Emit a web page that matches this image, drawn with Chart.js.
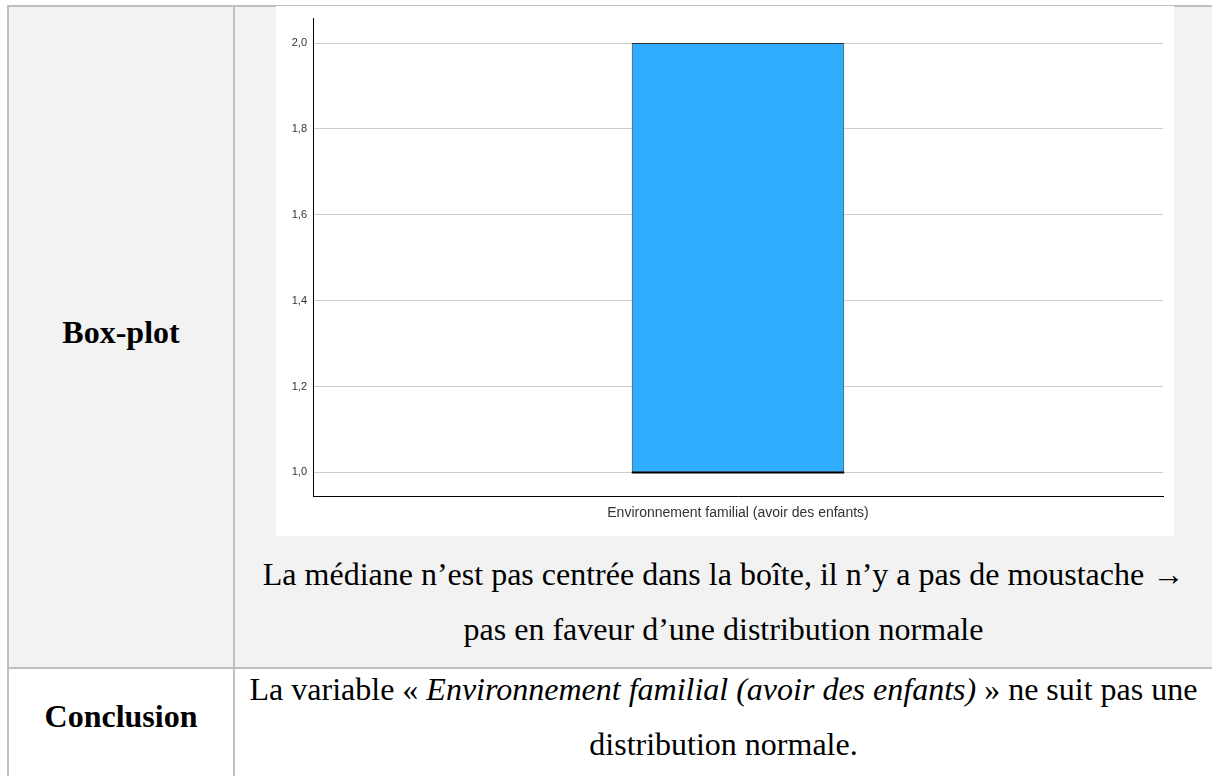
<!DOCTYPE html>
<html lang="fr">
<head>
<meta charset="utf-8">
<script src="https://cdn.jsdelivr.net/npm/chart.js@4/dist/chart.umd.min.js"></script>
<style>
html,body{margin:0;padding:0;background:#fff;width:1212px;height:776px;overflow:hidden;position:relative;font-family:"Liberation Serif","Times New Roman",serif;color:#000;}
.row1bg{position:absolute;left:9px;top:7px;width:1203px;height:660px;background:#f2f2f2;}
.line{position:absolute;background:#bfbfbf;}
.txt{position:absolute;font-size:32px;line-height:32px;white-space:nowrap;text-align:center;}
.b{font-weight:bold;}
#chartBox{position:absolute;left:276px;top:6px;width:898px;height:530px;background:#fff;}
</style>
</head>
<body>
<div class="row1bg"></div>
<div class="line" style="left:7px;top:5px;width:1205px;height:2px;"></div>
<div class="line" style="left:7px;top:5px;width:2px;height:771px;"></div>
<div class="line" style="left:233px;top:5px;width:2px;height:771px;"></div>
<div class="line" style="left:7px;top:667px;width:1205px;height:2px;"></div>

<div id="chartBox"><canvas id="c"></canvas></div>

<div class="txt b" style="left:9px;width:224px;top:316px;">Box-plot</div>
<div class="txt" style="left:235px;width:977px;top:558px;">La médiane n’est pas centrée dans la boîte, il n’y a pas de moustache →</div>
<div class="txt" style="left:235px;width:977px;top:613px;">pas en faveur d’une distribution normale</div>

<div class="txt b" style="left:9px;width:224px;top:700px;">Conclusion</div>
<div class="txt" style="left:235px;width:977px;top:673px;">La variable « <i>Environnement familial (avoir des enfants)</i> » ne suit pas une</div>
<div class="txt" style="left:235px;width:977px;top:728px;">distribution normale.</div>

<script>
// ---- data ----
const categories = ['Environnement familial (avoir des enfants)'];
const boxMin = [1.0];
const boxQ1 = [1.0];
const boxMedian = [1.0];
const boxQ3 = [2.0];
const boxMax = [2.0];
const yTickValues = [1.0, 1.2, 1.4, 1.6, 1.8, 2.0];
const yAxisMin = 0.945;
const yAxisMax = 2.057;

const boxExtras = {
  id: 'boxExtras',
  afterDatasetsDraw(chart) {
    const meta = chart.getDatasetMeta(0);
    const ys = chart.scales.y;
    const ctx = chart.ctx;
    meta.data.forEach((bar, i) => {
      const half = bar.width / 2;
      ctx.save();
      ctx.strokeStyle = '#000';
      ctx.lineWidth = 1;
      // whiskers (only if they exist)
      if (boxMax[i] > boxQ3[i]) {
        const a = ys.getPixelForValue(boxQ3[i]), b = ys.getPixelForValue(boxMax[i]);
        ctx.beginPath(); ctx.moveTo(bar.x, a); ctx.lineTo(bar.x, b);
        ctx.moveTo(bar.x - half / 2, b); ctx.lineTo(bar.x + half / 2, b); ctx.stroke();
      }
      if (boxMin[i] < boxQ1[i]) {
        const a = ys.getPixelForValue(boxQ1[i]), b = ys.getPixelForValue(boxMin[i]);
        ctx.beginPath(); ctx.moveTo(bar.x, a); ctx.lineTo(bar.x, b);
        ctx.moveTo(bar.x - half / 2, b); ctx.lineTo(bar.x + half / 2, b); ctx.stroke();
      }
      // median
      const ym = ys.getPixelForValue(boxMedian[i]);
      ctx.lineWidth = 2;
      ctx.beginPath(); ctx.moveTo(bar.x - half, ym); ctx.lineTo(bar.x + half, ym); ctx.stroke();
      ctx.restore();
    });
  }
};

new Chart(document.getElementById('c'), {
  type: 'bar',
  data: {
    labels: categories,
    datasets: [{
      data: categories.map((c, i) => [boxQ1[i], boxQ3[i]]),
      backgroundColor: '#31adff',
      borderColor: '#333333',
      borderWidth: 1,
      borderSkipped: false,
      barPercentage: 0.25,
      categoryPercentage: 1
    }]
  },
  options: {
    responsive: true,
    maintainAspectRatio: false,
    animation: false,
    layout: { padding: { left: 0, top: 6, right: 11, bottom: 0 } },
    plugins: { legend: { display: false }, tooltip: { enabled: false } },
    scales: {
      x: {
        grid: { display: false, drawTicks: false },
        border: { display: true, color: '#000', width: 1 },
        ticks: { display: false },
        title: {
          display: true,
          text: categories[0],
          color: '#333',
          font: { family: 'Liberation Sans', size: 14 },
          padding: { top: 0, bottom: 14 }
        },
        afterFit(s) { s.height = 40; }
      },
      y: {
        min: yAxisMin,
        max: yAxisMax,
        afterBuildTicks(s) { s.ticks = yTickValues.map(v => ({ value: v })); },
        grid: { color: '#cccccc', lineWidth: 1, drawTicks: false },
        border: { display: true, color: '#000', width: 1 },
        ticks: {
          padding: 6,
          color: '#333',
          font: { family: 'Liberation Sans', size: 11 },
          callback: (v) => Number(v).toFixed(1).replace('.', ',')
        },
        afterFit(s) { s.width = 37; }
      }
    }
  },
  plugins: [boxExtras]
});
</script>
</body>
</html>
